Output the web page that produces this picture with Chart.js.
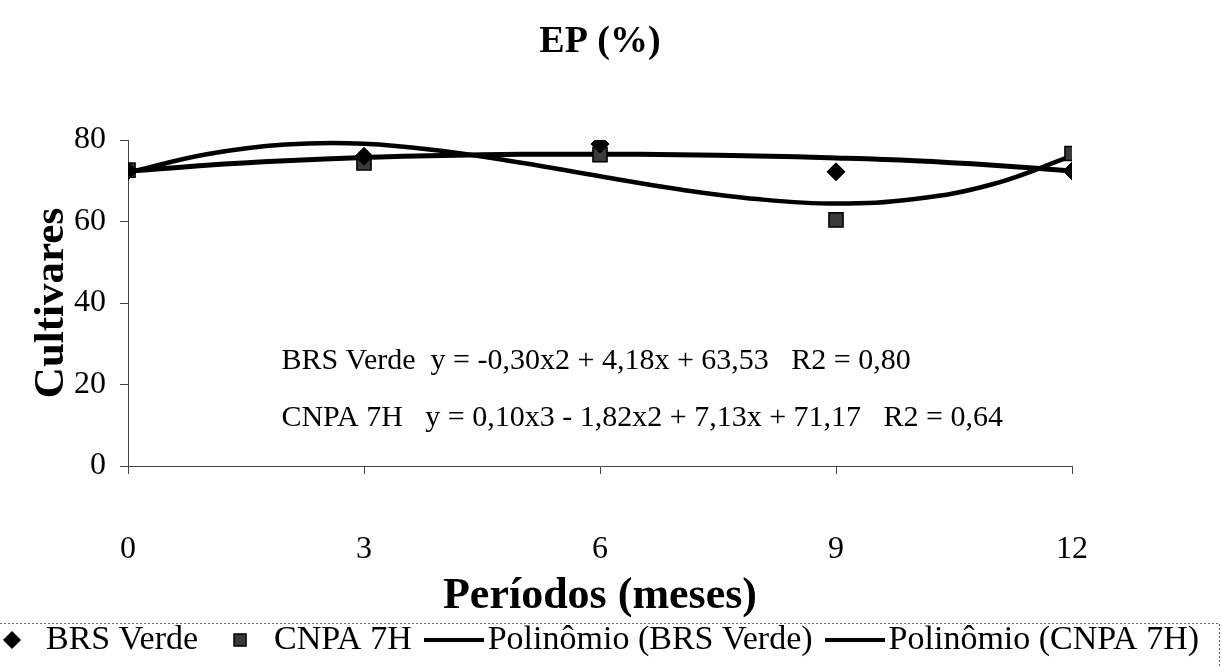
<!DOCTYPE html>
<html>
<head>
<meta charset="utf-8">
<script src="https://cdn.jsdelivr.net/npm/chart.js@4.4.1/dist/chart.umd.min.js"></script>
<style>
  html, body { margin: 0; padding: 0; background: #fff; }
</style>
</head>
<body>
<canvas id="epChart" width="1222" height="667"></canvas>
<script>
  // valores
  const periodos = [0, 3, 6, 9, 12];
  const brsVerde = [72.4, 76.0, 79.0, 72.2, 72.4];
  const cnpa7h = [72.6, 74.4, 76.4, 60.4, 76.7];

  // linhas de tendência (lidas ponto a ponto na figura)
  const mesesTendencia = [0, 1, 2, 3, 4, 5, 6, 7, 8, 9, 10, 11, 12];
  const tendenciaBrs = [72.3, 73.8, 74.9, 75.7, 76.2, 76.5, 76.5, 76.4, 76.1, 75.6, 74.9, 73.8, 72.4];
  const tendenciaCnpa = [72.0, 76.5, 78.9, 79.1, 77.3, 74.4, 71.1, 67.9, 65.5, 64.4, 65.5, 69.2, 76.1];

  const xTicks = [0, 3, 6, 9, 12];
  const yTicks = [0, 20, 40, 60, 80];

  const equacoes = [
    'BRS Verde  y = -0,30x2 + 4,18x + 63,53   R2 = 0,80',
    'CNPA 7H   y = 0,10x3 - 1,82x2 + 7,13x + 71,17   R2 = 0,64'
  ];

  const serif = "'Liberation Serif', 'Times New Roman', serif";

  const toXY = (xs, ys) => xs.map((x, i) => ({ x: x, y: ys[i] }));

  // little line sample for the trend entries of the legend
  const legendLine = document.createElement('canvas');
  legendLine.width = 60;
  legendLine.height = 4;
  legendLine.getContext('2d').fillRect(0, 0, 60, 4);

  // Equations written inside the plot
  const equationPlugin = {
    id: 'equations',
    afterDatasetsDraw(chart) {
      const ctx = chart.ctx;
      const sx = chart.scales.x, sy = chart.scales.y;
      const spots = [[1.95, 25.8], [1.95, 11.8]];
      ctx.save();
      ctx.font = '30px ' + serif;
      ctx.fillStyle = '#000';
      ctx.textAlign = 'left';
      ctx.textBaseline = 'middle';
      equacoes.forEach((t, i) => {
        ctx.fillText(t, sx.getPixelForValue(spots[i][0]), sy.getPixelForValue(spots[i][1]));
      });
      ctx.restore();
    }
  };

  // dotted frame round the legend
  const legendFrame = {
    id: 'legendFrame',
    afterDraw(chart) {
      const ctx = chart.ctx;
      ctx.save();
      ctx.strokeStyle = '#666';
      ctx.lineWidth = 1;
      ctx.setLineDash([2, 2]);
      ctx.beginPath();
      ctx.moveTo(0, 623.5);
      ctx.lineTo(1219.5, 623.5);
      ctx.lineTo(1219.5, 667);
      ctx.stroke();
      ctx.restore();
    }
  };

  new Chart(document.getElementById('epChart'), {
    type: 'line',
    data: {
      datasets: [{
        label: 'BRS Verde',
        data: toXY(periodos, brsVerde),
        showLine: false,
        pointStyle: 'rectRot',
        pointRadius: 9,
        backgroundColor: '#000',
        borderColor: '#000',
        borderWidth: 1
      }, {
        label: 'CNPA 7H',
        data: toXY(periodos, cnpa7h),
        showLine: false,
        pointStyle: 'rect',
        pointRadius: 10,
        backgroundColor: '#3a3a3a',
        borderColor: '#000',
        borderWidth: 1.5
      }, {
        label: 'Polinômio (BRS Verde)',
        data: toXY(mesesTendencia, tendenciaBrs),
        borderColor: '#000',
        backgroundColor: '#000',
        borderWidth: 5,
        pointRadius: 0,
        tension: 0.4,
        fill: false
      }, {
        label: 'Polinômio (CNPA 7H)',
        data: toXY(mesesTendencia, tendenciaCnpa),
        borderColor: '#000',
        backgroundColor: '#000',
        borderWidth: 4.5,
        pointRadius: 0,
        tension: 0.4,
        fill: false
      }]
    },
    options: {
      responsive: false,
      animation: false,
      // the legend runs a little past both edges, as in the scan
      layout: { padding: { left: -30, right: -30, top: 0, bottom: 0 } },
      scales: {
        x: {
          type: 'linear',
          min: 0,
          max: 12,
          afterBuildTicks: s => { s.ticks = xTicks.map(v => ({ value: v })); },
          afterFit: s => { s.height = 132; },
          ticks: { color: '#000', font: { family: serif, size: 32 }, padding: 56 },
          grid: { drawOnChartArea: false, drawTicks: true, tickLength: 8, color: '#444' },
          border: { display: true, color: '#444', width: 1 },
          title: {
            display: true,
            text: 'Períodos (meses)',
            color: '#000',
            font: { family: serif, size: 44, weight: 'bold' },
            padding: { top: 0, bottom: -25 }
          }
        },
        y: {
          min: 0,
          max: 80,
          afterBuildTicks: s => { s.ticks = yTicks.map(v => ({ value: v })); },
          afterFit: s => { s.width = 158; },
          ticks: { color: '#000', font: { family: serif, size: 32 }, padding: 14 },
          grid: { drawOnChartArea: false, drawTicks: true, tickLength: 8, color: '#444' },
          border: { display: true, color: '#444', width: 1 },
          title: {
            display: true,
            text: 'Cultivares',
            color: '#000',
            font: { family: serif, size: 43, weight: 'bold' },
            padding: { top: 56, bottom: 0 }
          }
        },
        margemDireita: {
          position: 'right',
          afterFit: s => { s.width = 180; },
          ticks: { display: false },
          grid: { display: false },
          border: { display: false }
        }
      },
      plugins: {
        title: {
          display: true,
          text: 'EP (%)',
          fullSize: false,
          color: '#000',
          font: { family: serif, size: 38, weight: 'bold' },
          padding: { top: 19, bottom: 75.4 }
        },
        legend: {
          position: 'bottom',
          align: 'start',
          labels: {
            usePointStyle: true,
            boxWidth: 40,
            boxHeight: 12,
            padding: 25,
            color: '#000',
            font: { family: serif, size: 34 },
            generateLabels(chart) {
              const items = Chart.defaults.plugins.legend.labels.generateLabels(chart);
              items.forEach(it => {
                if (chart.data.datasets[it.datasetIndex].showLine !== false) {
                  it.pointStyle = legendLine;
                }
              });
              return items;
            }
          }
        },
        tooltip: { enabled: false }
      }
    },
    plugins: [equationPlugin, legendFrame]
  });
</script>
</body>
</html>
